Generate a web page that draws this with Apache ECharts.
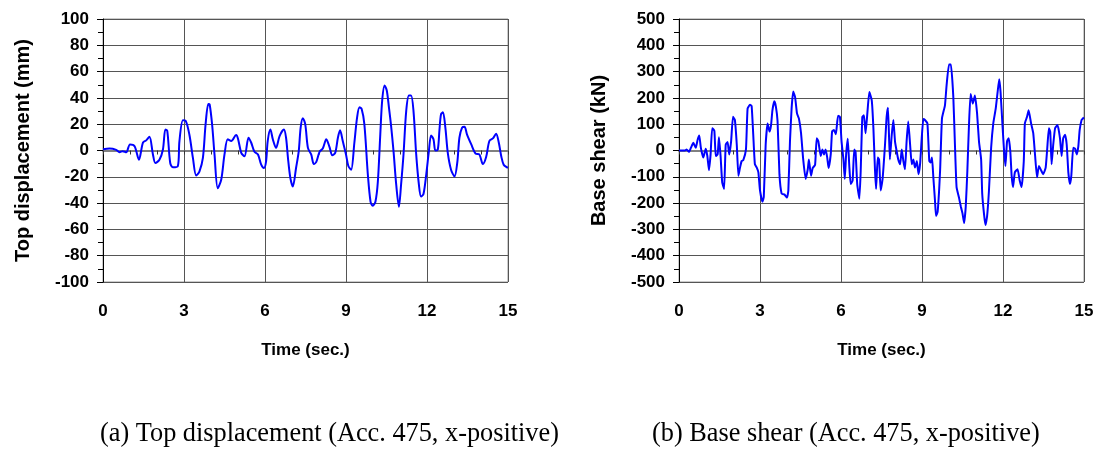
<!DOCTYPE html>
<html>
<head>
<meta charset="utf-8">
<script src="https://cdn.jsdelivr.net/npm/echarts@6/dist/echarts.min.js"></script>
<style>
  html, body { margin: 0; padding: 0; background: #ffffff; }
  #chart { width: 1101px; height: 451px; }
</style>
</head>
<body>
<div id="chart"></div>
<script>
// Top displacement response (mm) over time (s)
const dispTime = [
  0, 0.24, 0.49, 0.61, 0.73, 0.86, 1.0, 1.17, 1.33, 1.48,
  1.6, 1.72, 1.85, 1.94, 2.09, 2.22, 2.31, 2.38, 2.49, 2.59,
  2.77, 2.83, 2.96, 3.06, 3.2, 3.33, 3.45, 3.57, 3.7, 3.8,
  3.9, 3.95, 4.04, 4.13, 4.25, 4.38, 4.5, 4.62, 4.75, 4.93,
  5.0, 5.12, 5.24, 5.39, 5.49, 5.61, 5.74, 5.86, 5.96, 6.04,
  6.1, 6.2, 6.29, 6.41, 6.54, 6.7, 6.78, 6.85, 6.94, 7.03,
  7.15, 7.25, 7.32, 7.4, 7.49, 7.59, 7.71, 7.81, 7.9, 8.02,
  8.14, 8.27, 8.39, 8.49, 8.6, 8.7, 8.78, 8.88, 9.0, 9.09,
  9.19, 9.31, 9.41, 9.5, 9.58, 9.68, 9.81, 9.91, 9.99, 10.09,
  10.18, 10.27, 10.34, 10.43, 10.51, 10.59, 10.67, 10.76, 10.86, 10.96,
  11.04, 11.13, 11.23, 11.33, 11.41, 11.5, 11.6, 11.7, 11.78, 11.87,
  11.97, 12.07, 12.15, 12.24, 12.31, 12.4, 12.46, 12.52, 12.59, 12.68,
  12.77, 12.89, 13.02, 13.12, 13.2, 13.3, 13.39, 13.48, 13.64, 13.8,
  13.94, 14.07, 14.19, 14.31, 14.44, 14.56, 14.66, 14.75, 14.84, 14.96,
  15.0
];
const dispValue = [
  1, 1.5, 0.5, -1.3, -0.5, -1.3, 4.6, 3.3, -7, 6,
  7.7, 10.5, -3, -9.5, -7, 0.8, 16, 15, -9.5, -12.8,
  -12, 7, 23, 22.6, 12, -5.6, -19, -16, -5.6, 20,
  35.4, 35, 20, -3, -28.7, -22, -3, 8.5, 7.2, 11.8,
  9, -1.8, -4.4, 9.7, 5.9, -1, -3, -10.8, -13.3, -8.2,
  7.2, 15.9, 8.5, 2, 11, 15.9, 9.7, -5.6, -21, -27.4,
  -13.3, -0.5, 17.4, 24.6, 20, 2, -3, -10.3, -8.7, -1,
  1.5, 8.5, 2.6, -3.6, -1.8, 9.7, 15.4, 7.2, -3, -12,
  -14.6, 5.9, 25, 32.8, 31.5, 20, -18.5, -39, -42, -39,
  -23.6, 12.3, 38, 49.5, 45.6, 32.8, 18.7, -0.5, -26, -42.8,
  -26, -3, 30, 41.8, 41.8, 30, -3, -26, -35, -33,
  -18.5, -0.5, 11.5, 8.5, 0, 0.8, 15.4, 27.7, 29, 17.4,
  -1.8, -14.6, -19.7, -9.5, 9.7, 17.4, 18, 12.3, 4.6, -2.3,
  -3, -10.3, -5, 7.2, 9.2, 12.8, 5.9, -4.4, -10.8, -12.8,
  -13
];

// Base shear response (kN) over time (s)
const shearTime = [
  0, 0.22, 0.28, 0.37, 0.44, 0.53, 0.62, 0.69, 0.75, 0.81,
  0.9, 0.99, 1.05, 1.11, 1.17, 1.23, 1.31, 1.36, 1.43, 1.48,
  1.54, 1.6, 1.67, 1.73, 1.8, 1.86, 1.93, 2.0, 2.07, 2.14,
  2.2, 2.26, 2.32, 2.38, 2.48, 2.54, 2.63, 2.69, 2.75, 2.81,
  2.88, 2.94, 3.0, 3.09, 3.14, 3.21, 3.28, 3.35, 3.41, 3.46,
  3.53, 3.59, 3.65, 3.72, 3.8, 3.9, 4.0, 4.05, 4.11, 4.17,
  4.23, 4.3, 4.37, 4.44, 4.52, 4.6, 4.69, 4.77, 4.81, 4.89,
  4.95, 5.04, 5.1, 5.16, 5.25, 5.31, 5.37, 5.43, 5.49, 5.54,
  5.62, 5.67, 5.74, 5.81, 5.89, 5.96, 6.02, 6.09, 6.14, 6.19,
  6.25, 6.31, 6.36, 6.43, 6.49, 6.54, 6.6, 6.68, 6.73, 6.79,
  6.85, 6.91, 6.98, 7.05, 7.14, 7.2, 7.26, 7.3, 7.36, 7.41,
  7.47, 7.54, 7.63, 7.69, 7.74, 7.81, 7.88, 7.94, 8.0, 8.06,
  8.12, 8.19, 8.25, 8.31, 8.37, 8.43, 8.49, 8.56, 8.62, 8.68,
  8.74, 8.81, 8.87, 8.93, 8.99, 9.05, 9.11, 9.2, 9.27, 9.32,
  9.37, 9.42, 9.48, 9.52, 9.58, 9.67, 9.74, 9.85, 9.91, 10.0,
  10.07, 10.16, 10.22, 10.28, 10.37, 10.44, 10.5, 10.56, 10.62, 10.68,
  10.74, 10.8, 10.88, 10.96, 11.04, 11.11, 11.19, 11.23, 11.3, 11.35,
  11.41, 11.48, 11.56, 11.64, 11.73, 11.8, 11.86, 11.91, 11.98, 12.04,
  12.09, 12.15, 12.21, 12.27, 12.32, 12.37, 12.44, 12.54, 12.62, 12.69,
  12.77, 12.81, 12.89, 12.95, 13.04, 13.12, 13.19, 13.26, 13.33, 13.41,
  13.49, 13.58, 13.64, 13.7, 13.75, 13.8, 13.86, 13.93, 14.02, 14.11,
  14.17, 14.23, 14.3, 14.36, 14.42, 14.48, 14.53, 14.6, 14.67, 14.73,
  14.79, 14.84, 14.91, 14.96, 15.0
];
const shearValue = [
  0, 0, 4, -5, 10, 29, 10, 41, 57, 10,
  -27, 7, -21, -75, -15, 85, 75, -21, -15, 50,
  -21, -121, -146, 22, 32, -15, 35, 128, 116, 22,
  -96, -65, -40, -37, 4, 159, 174, 169, 60, -52,
  -65, -83, -152, -195, -177, 22, 103, 72, 97, 153,
  187, 166, 112, -90, -164, -167, -179, -152, 35, 159,
  224, 203, 141, 122, 66, -34, -108, -71, -34, -96,
  -67, -55, 47, 35, -21, 4, -15, 4, -27, -67,
  -15, 72, 78, 62, 132, 128, 35, -34, -108, -15,
  45, -65, -127, -115, 4, -5, -127, -183, -77, 128,
  134, 66, 147, 222, 190, 85, -77, -146, -27, -34,
  -152, -108, 22, 128, 163, -34, 60, 116, 35, -2,
  -34, -52, 4, -40, -71, 35, 110, 22, -52, -34,
  -65, -40, -90, -50, 47, 120, 116, 103, -40, -46,
  -27, -102, -189, -249, -233, -77, 122, 172, 247, 327,
  327, 203, 22, -139, -179, -214, -239, -276, -214, -77,
  97, 215, 178, 209, 141, 35, -34, -164, -245, -283,
  -251, -152, 10, 103, 159, 222, 271, 222, 97, -2,
  -59, 35, 47, -2, -96, -139, -83, -71, -115, -139,
  -40, 103, 128, 153, 103, 66, -21, -102, -59, -75,
  -90, -65, 10, 85, 70, -52, 22, 85, 97, 47,
  -21, 47, 60, 22, -83, -127, -96, 10, 7, -15,
  16, 78, 116, 122, 125
];

// Axis ranges and labels
const timeRange = [0, 15];
const timeStep = 3;
const dispRange = [-100, 100];
const dispStep = 20;
const shearRange = [-500, 500];
const shearStep = 100;
const axisTitles = {
  time: 'Time (sec.)',
  disp: 'Top displacement (mm)',
  shear: 'Base shear (kN)'
};
const captions = [
  '(a) Top displacement (Acc. 475, x-positive)',
  '(b) Base shear (Acc. 475, x-positive)'
];

const zip = (xs, ys) => xs.map((x, i) => [x, ys[i]]);

const boldFont = (size) => ({
  color: '#000',
  fontFamily: 'Liberation Sans, Arial, sans-serif',
  fontWeight: 'bold',
  fontSize: size
});
const gridLine = { show: true, lineStyle: { color: '#555', width: 1 } };

function timeAxes(gridIndex) {
  return [
    {
      // bottom axis: tick labels, vertical grid lines, title
      type: 'value', gridIndex, position: 'bottom',
      min: timeRange[0], max: timeRange[1], interval: timeStep,
      axisLine: { show: false, onZero: false },
      axisTick: { show: false },
      axisLabel: Object.assign({ margin: 21 }, boldFont(17)),
      splitLine: gridLine,
      name: axisTitles.time, nameLocation: 'middle', nameGap: 60,
      nameTextStyle: boldFont(17)
    },
    {
      // zero line with 1-second tick marks
      type: 'value', gridIndex,
      min: timeRange[0], max: timeRange[1], interval: 1,
      axisLine: { show: true, onZero: true, lineStyle: { color: '#808080', width: 2 } },
      axisTick: { show: true, inside: true, length: 4, lineStyle: { color: '#333', width: 1 } },
      axisLabel: { show: false },
      splitLine: { show: false }
    }
  ];
}

function valueAxis(gridIndex, range, step, title) {
  return {
    type: 'value', gridIndex,
    min: range[0], max: range[1], interval: step,
    axisLine: { show: true, onZero: false, lineStyle: { color: '#000', width: 1 } },
    axisTick: { show: true, length: 6, lineStyle: { color: '#000' } },
    minorTick: { show: true, splitNumber: 2, length: 5, lineStyle: { color: '#000' } },
    axisLabel: Object.assign({ margin: 14 }, boldFont(17)),
    splitLine: gridLine,
    name: title, nameLocation: 'middle', nameGap: 70,
    nameTextStyle: boldFont(20)
  };
}

const lineStyle = { color: '#0000ff', width: 2 };
const captionFont = '26.3px "Liberation Serif", "Times New Roman", serif';

const chart = echarts.init(document.getElementById('chart'), null, { renderer: 'canvas' });
chart.setOption({
  animation: false,
  backgroundColor: '#ffffff',
  grid: [
    { left: 103, top: 19, width: 405, height: 263, show: true, borderColor: '#999', borderWidth: 1 },
    { left: 679, top: 19, width: 405, height: 263, show: true, borderColor: '#999', borderWidth: 1 }
  ],
  xAxis: [...timeAxes(0), ...timeAxes(1)],
  yAxis: [
    valueAxis(0, dispRange, dispStep, axisTitles.disp),
    valueAxis(1, shearRange, shearStep, axisTitles.shear)
  ],
  series: [
    {
      type: 'line', xAxisIndex: 0, yAxisIndex: 0,
      data: zip(dispTime, dispValue),
      showSymbol: false, smooth: 0.3, lineStyle, itemStyle: { color: '#0000ff' }
    },
    {
      type: 'line', xAxisIndex: 2, yAxisIndex: 1,
      data: zip(shearTime, shearValue),
      showSymbol: false, smooth: 0.15, lineStyle, itemStyle: { color: '#0000ff' }
    }
  ],
  graphic: [
    {
      type: 'text', left: 100, top: 421,
      style: { text: captions[0], fill: '#000', font: captionFont }
    },
    {
      type: 'text', left: 652, top: 421,
      style: { text: captions[1], fill: '#000', font: captionFont }
    }
  ]
});
</script>
</body>
</html>
